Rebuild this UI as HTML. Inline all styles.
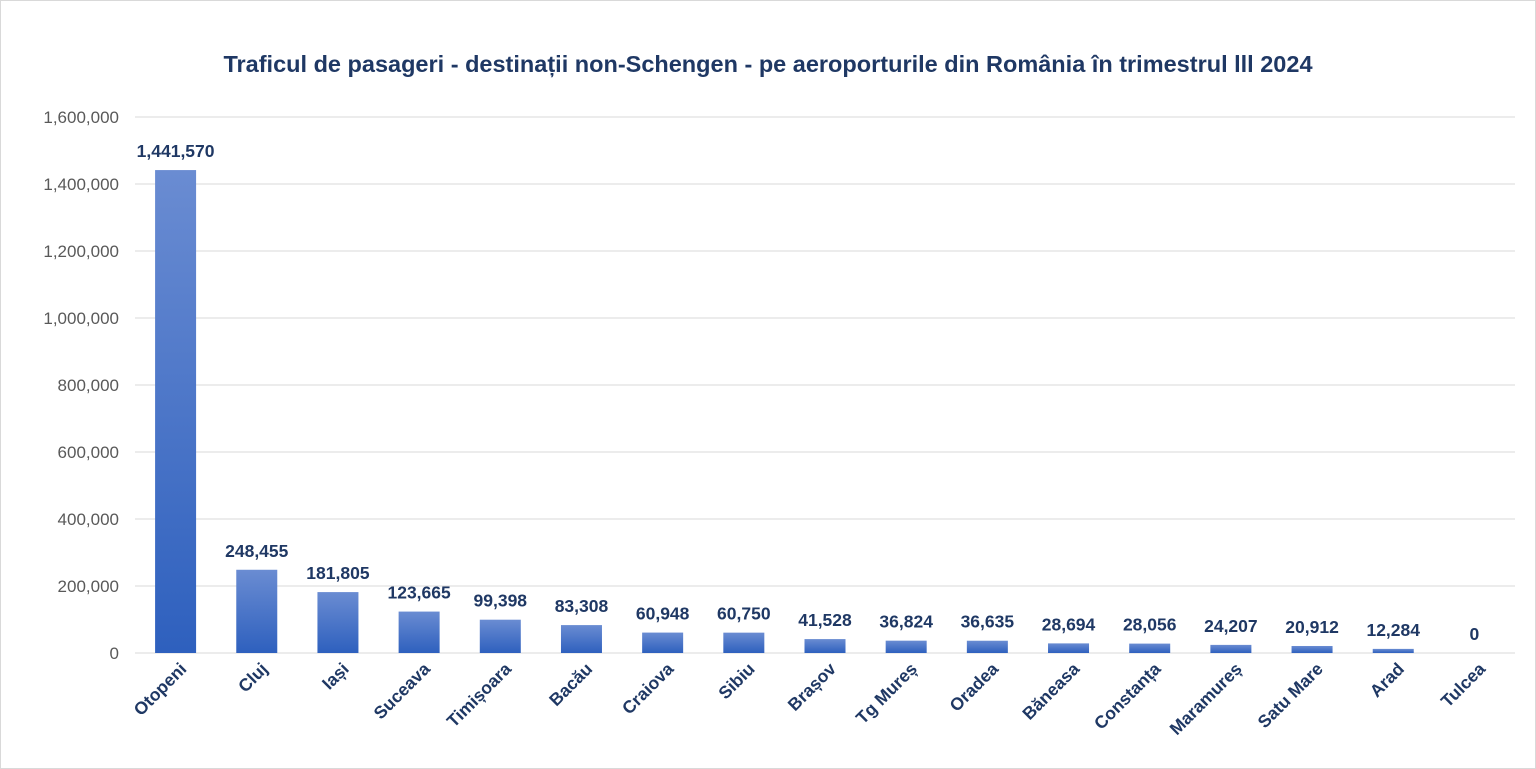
<!DOCTYPE html>
<html><head><meta charset="utf-8"><style>
html,body{margin:0;padding:0;background:#fff;}
svg{display:block;font-family:"Liberation Sans",sans-serif;}
</style></head><body>
<svg id="chart" width="1536" height="769" viewBox="0 0 1536 769">
<defs>
<linearGradient id="bg" x1="0" y1="0" x2="0" y2="1">
<stop offset="0" stop-color="#6a8cd2"/><stop offset="1" stop-color="#2e60be"/>
</linearGradient>
</defs>
<rect x="0.5" y="0.5" width="1535" height="768" fill="#fff" stroke="#d9d9d9"/>
<text x="768" y="72" text-anchor="middle" font-size="23.5" font-weight="bold" fill="#1f3864">Traficul de pasageri - destinații non-Schengen - pe aeroporturile din România în trimestrul lll 2024</text>
<g id="grid"></g><g id="bars"></g><g id="labels"></g>
</svg>
<script>
const categories=["Otopeni","Cluj","Iași","Suceava","Timișoara","Bacău","Craiova","Sibiu","Brașov","Tg Mureș","Oradea","Băneasa","Constanța","Maramureș","Satu Mare","Arad","Tulcea"];
const values=[1441570,248455,181805,123665,99398,83308,60948,60750,41528,36824,36635,28694,28056,24207,20912,12284,0];
const yTicks=[0,200000,400000,600000,800000,1000000,1200000,1400000,1600000];
const NS="http://www.w3.org/2000/svg";
const y0=653,yTop=117,yMax=1600000,x0=135,x1=1515;
const y=v=>y0-(v/yMax)*(y0-yTop);
const step=(x1-x0)/categories.length;
const xc=i=>x0+step*(i+0.5);
const fmt=v=>v.toLocaleString("en-US");
function mk(tag,attrs,parent,txt){const e=document.createElementNS(NS,tag);for(const k in attrs)e.setAttribute(k,attrs[k]);if(txt!==undefined)e.textContent=txt;parent.appendChild(e);return e;}
const grid=document.getElementById("grid"),bars=document.getElementById("bars"),labels=document.getElementById("labels");
yTicks.forEach(t=>{
 const l=mk("line",{x1:x0,x2:x1,y1:y(t),y2:y(t),stroke:"#d9d9d9","stroke-width":1},grid);
 
 
 const tx=mk("text",{x:119,y:y(t)+6,"text-anchor":"end","font-size":17,fill:"#595959"},grid,fmt(t));
 
 
});
const bw=41;
categories.forEach((c,i)=>{
 const v=values[i];
 const r=mk("rect",{x:xc(i)-bw/2,y:y(v),width:bw,height:y0-y(v),fill:"url(#bg)"},bars);
 
 
 const vl=mk("text",{x:xc(i),y:y(v)-13,"text-anchor":"middle","font-size":17.5,"font-weight":"bold",fill:"#1f3864"},labels,fmt(v));
 
 
 const ax=xc(i)+12,ay=670;
 const cl=mk("text",{x:ax,y:ay,"text-anchor":"end","font-size":17.5,"font-weight":"bold",fill:"#1f3864",transform:`rotate(-45 ${ax} ${ay})`},labels,c);
 
 
});
</script>
</body></html>
